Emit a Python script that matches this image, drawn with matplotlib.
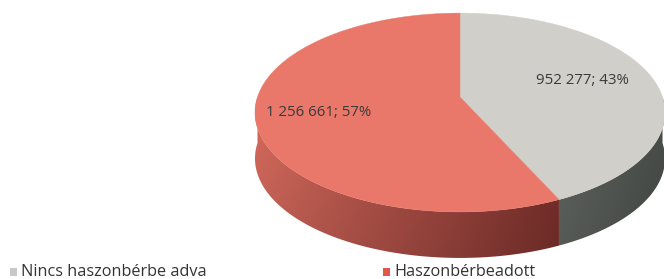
import numpy as np
import matplotlib
matplotlib.use("Agg")
import matplotlib.pyplot as plt
from matplotlib.patches import Polygon, Rectangle

# ---- data ----
labels = ["Nincs haszonbérbe adva", "Haszonbérbeadott"]
values = [952277, 1256661]
value_labels = ["952 277; 43%", "1 256 661; 57%"]

top_colors = ["#d1cfca", "#e9786a"]
legend_colors = ["#c9c8c5", "#e0574b"]
# side shading: colour at left end / right end of each wall
side_left = [np.array([98, 102, 97]), np.array([214, 106, 93])]
side_right = [np.array([74, 78, 74]), np.array([122, 48, 44])]

# ---- geometry (pixel space, simple perspective) ----
W, H = 664, 279
cx, cy, a, b, k, depth = 460, 97, 202.5, 97, 0.156, 46

fig = plt.figure(figsize=(W / 100, H / 100), dpi=100)
ax = fig.add_axes([0, 0, 1, 1])
ax.set_xlim(0, W)
ax.set_ylim(H, 0)
ax.axis("off")


def rim(t):
    u, v = np.cos(t), np.sin(t)
    s = 1.0 / (1.0 + k * v)
    return cx + a * u * s, cy - b * v * s


fracs = np.array(values) / sum(values)
# first slice starts at 12 o'clock and runs clockwise
starts, ends = [], []
ang = np.pi / 2
for f in fracs:
    starts.append(ang - 2 * np.pi * f)
    ends.append(ang)
    ang -= 2 * np.pi * f

# side walls, front half only
for i in range(len(values)):
    t0, t1 = starts[i], ends[i]
    best = None
    for off in (-2 * np.pi, 0, 2 * np.pi):
        lo, hi = max(t0 + off, np.pi), min(t1 + off, 2 * np.pi)
        if hi > lo:
            best = (lo - off, hi - off)
    if best is None:
        continue
    t = np.linspace(best[0], best[1], 150)
    x, y = rim(t)
    pts = np.column_stack([np.r_[x, x[::-1]], np.r_[y, (y + depth)[::-1]]])
    poly = Polygon(pts, closed=True, facecolor="none", edgecolor="none")
    ax.add_patch(poly)
    x0, x1 = x.min(), x.max()
    y0, y1 = y.min(), (y + depth).max()
    nx, ny = 80, 40
    fx = np.linspace(0, 1, nx)[None, :, None]
    fy = np.linspace(0, 1, ny)[:, None, None]
    cols = side_left[i] + (side_right[i] - side_left[i]) * fx
    cols = cols * (1.0 - 0.12 * fy)
    img = ax.imshow(np.clip(cols / 255.0, 0, 1), extent=[x0, x1, y1 + 1, y0],
                    aspect="auto", interpolation="bilinear", zorder=1)
    img.set_clip_path(poly)

# top faces
for i in range(len(values)):
    t = np.linspace(starts[i], ends[i], 240)
    x, y = rim(t)
    pts = np.column_stack([np.r_[cx, x], np.r_[cy, y]])
    ax.add_patch(Polygon(pts, closed=True, facecolor=top_colors[i],
                         edgecolor=top_colors[i], linewidth=0.3, zorder=2))

# value labels
ax.text(582, 80, value_labels[0], ha="center", va="center", fontsize=10.8,
        family="Open Sans", color="#3a3a3a", zorder=3)
ax.text(319, 112, value_labels[1], ha="center", va="center", fontsize=10.8,
        family="Open Sans", color="#3a3a3a", zorder=3)

# legend
leg_x = [10, 383]
for i in range(len(labels)):
    ax.add_patch(Rectangle((leg_x[i], 268), 7, 8, facecolor=legend_colors[i],
                           edgecolor="none"))
    ax.text(leg_x[i] + 11, 272, labels[i], ha="left", va="center", fontsize=11.7,
            family="Open Sans", color="#333333")

fig.savefig("out.png", dpi=100)
